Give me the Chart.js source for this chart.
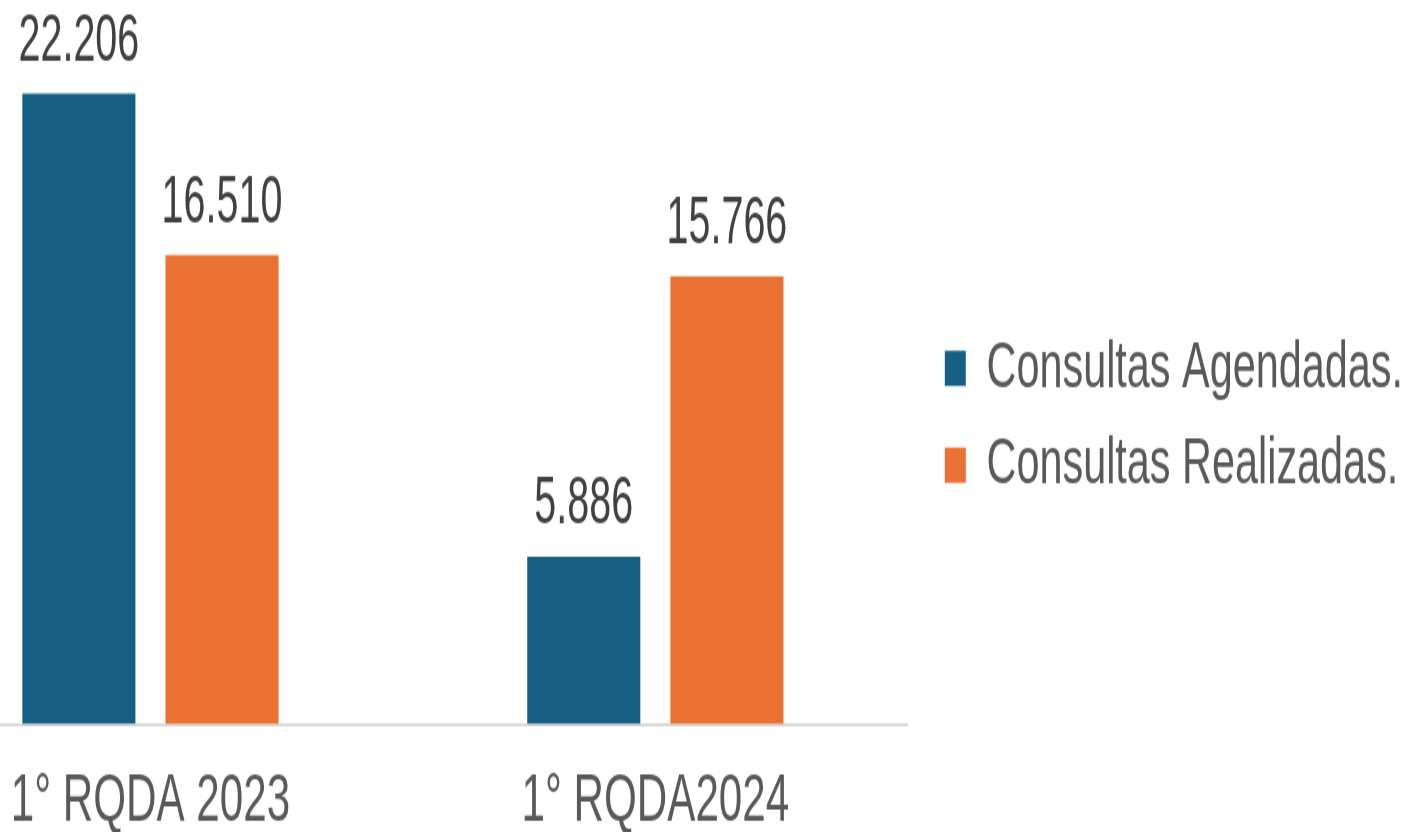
<!DOCTYPE html>
<html lang="pt">
<head>
<meta charset="utf-8">
<title>Consultas - RQDA</title>
<script src="https://cdn.jsdelivr.net/npm/chart.js@4.4.1/dist/chart.umd.min.js"></script>
<style>
  body { margin: 0; background: #fff; }
  #quadro { position: relative; width: 1409px; height: 832px; overflow: hidden; }
  /* a figura original está esticada na vertical */
  #area { position: absolute; left: -102px; top: 0; width: 1511px; height: 520px;
          transform: scaleY(1.6); transform-origin: 0 0; }
</style>
</head>
<body>
<div id="quadro">
  <div id="area"><canvas id="grafico"></canvas></div>
</div>
<script>
// dados do gráfico
const categorias = ['1° RQDA 2023', '1° RQDA2024'];
const nomesSeries = ['Consultas Agendadas.', 'Consultas Realizadas.'];
const agendadas = [22206, 5886];
const realizadas = [16510, 15766];
const coresSeries = ['#156082', '#E97132'];

const fonte = "'Liberation Sans', Arial, sans-serif";

// número no formato 22.206
function formatar(v) {
    return String(v).replace(/\B(?=(\d{3})+(?!\d))/g, '.');
}

// rótulos de valor em cima das barras
const rotulosValor = {
    id: 'rotulosValor',
    afterDatasetsDraw(chart) {
        const ctx = chart.ctx;
        ctx.font = '39.5px ' + fonte;
        ctx.fillStyle = '#404040';
        ctx.textAlign = 'center';
        ctx.textBaseline = 'alphabetic';
        chart.data.datasets.forEach((ds, i) => {
            chart.getDatasetMeta(i).data.forEach((bar, j) => {
                ctx.save();
                ctx.translate(bar.x, bar.y - 21);
                ctx.scale(1, 1.06); // números um pouco mais altos
                ctx.fillText(formatar(ds.data[j]), 0, 0);
                ctx.restore();
            });
        });
    }
};

// ajusta a posição da legenda
const ajusteLegenda = {
    id: 'ajusteLegenda',
    afterLayout(chart) {
        const dx = 18, dy = -4;
        chart.legend.left += dx;
        chart.legend.right += dx;
        chart.legend.top += dy;
        chart.legend.bottom += dy;
    }
};

const ctx = document.getElementById('grafico').getContext('2d');
new Chart(ctx, {
    type: 'bar',
    data: {
        labels: categorias,
        datasets: [
            { label: nomesSeries[0], data: agendadas, backgroundColor: coresSeries[0],
              categoryPercentage: 0.567, barPercentage: 0.79 },
            { label: nomesSeries[1], data: realizadas, backgroundColor: coresSeries[1],
              categoryPercentage: 0.567, barPercentage: 0.79 }
        ]
    },
    options: {
        responsive: true,
        maintainAspectRatio: false,
        animation: false,
        layout: { padding: { top: 9, right: 14, left: 0, bottom: 0 } },
        scales: {
            x: {
                grid: { display: false },
                border: { display: true, color: '#d9d9d9', width: 2 },
                ticks: { color: '#595959', font: { family: fonte, size: 42.2 }, padding: 16, maxRotation: 0 },
                afterFit(scale) { scale.height = 67.5; }
            },
            y: { display: false, min: 0, max: 25000 }
        },
        plugins: {
            tooltip: { enabled: false },
            legend: {
                position: 'right',
                labels: {
                    color: '#595959',
                    font: { family: fonte, size: 41.4 },
                    boxWidth: 21,
                    boxHeight: 22,
                    padding: 19
                }
            }
        }
    },
    plugins: [rotulosValor, ajusteLegenda]
});
</script>
</body>
</html>
